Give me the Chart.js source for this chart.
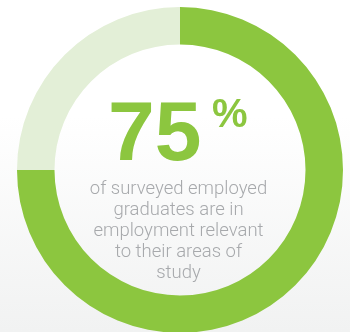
<!DOCTYPE html>
<html>
<head>
<meta charset="utf-8">
<script src="https://cdn.jsdelivr.net/npm/chart.js@4/dist/chart.umd.min.js"></script>
<style>
  html, body { margin: 0; padding: 0; width: 350px; height: 332px; overflow: hidden; }
  body { background: linear-gradient(to bottom, #ffffff 0%, #ffffff 35%, #f1f2f2 100%); position: relative; }
  #wrap { position: absolute; left: 0; top: 0; width: 360px; height: 340px; }
</style>
</head>
<body>
<div id="wrap"><canvas id="ringChart" width="360" height="340"></canvas></div>
<script>
const categories = ['Relevant employment', 'Other'];
const shares = [75, 25];
const sliceColors = ['#8cc63f', '#e3efd7'];
const headline = '75';
const headlineUnit = '%';
const captionLines = ['of surveyed employed', 'graduates are in', 'employment relevant', 'to their areas of', 'study'];

const centerTextPlugin = {
    id: 'centerText',
    afterDraw(chart) {
        const ctx = chart.ctx;
        const arc = chart.getDatasetMeta(0).data[0];
        const cx = arc.x;
        const cy = arc.y;
        ctx.save();
        ctx.textBaseline = 'alphabetic';
        ctx.textAlign = 'left';

        // big number
        ctx.fillStyle = '#8cc63f';
        ctx.font = 'bold 84px "Liberation Sans", Arial, sans-serif';
        ctx.fillText(headline, cx - 72, cy - 10);
        ctx.font = 'bold 40px "Liberation Sans", Arial, sans-serif';
        ctx.fillText(headlineUnit, cx + 32, cy - 43);

        // caption
        ctx.fillStyle = '#a7a9ac';
        ctx.font = '300 18.5px Roboto, sans-serif';
        ctx.textAlign = 'center';
        captionLines.forEach((line, i) => {
            ctx.fillText(line, cx - 1.5, cy + 24 + i * 21);
        });
        ctx.restore();
    }
};

const ringChartData = {
    labels: categories,
    datasets: [
        {
            data: shares,
            backgroundColor: sliceColors,
            borderWidth: 0,
        }
    ]
};

const ringChartConfig = {
    type: 'doughnut',
    data: ringChartData,
    options: {
        responsive: false,
        animation: false,
        cutout: '77%',
        layout: { padding: 7 },
        plugins: {
            legend: { display: false },
            tooltip: { enabled: false },
        }
    },
    plugins: [centerTextPlugin],
};

new Chart(document.getElementById('ringChart').getContext('2d'), ringChartConfig);
</script>
</body>
</html>
